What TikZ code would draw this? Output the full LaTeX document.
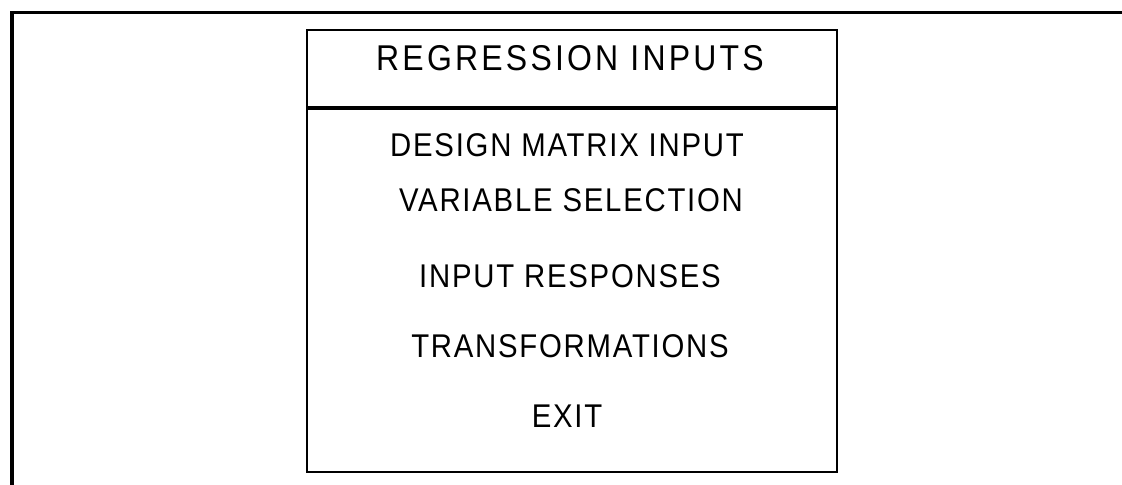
\documentclass[tikz,border=0pt]{standalone}
\usepackage{xcolor}
\usepackage{fontspec}
\setmainfont{Liberation Sans}
\usepackage{tikz}

\newcommand{\tallword}[1]{\scalebox{1}[1.12]{#1}}

\tikzset{
  titletext/.style={inner sep=0.75pt, font=\fontsize{24}{28}\selectfont\addfontfeatures{LetterSpace=10}},
  menutext/.style={inner sep=0.75pt, font=\fontsize{22}{26}\selectfont\addfontfeatures{LetterSpace=6}}
}

\begin{document}
\begin{tikzpicture}[x=0.75pt,y=0.75pt,yscale=-1,xscale=1]
	\useasboundingbox (0,0) rectangle (1122,485);
	
	%Straight Lines [id:frame] 
	\draw [line width=2.25]  (10,13) -- (1122,13) ;
	\draw [line width=2.5]  (12,12) -- (12,485) ;
	%Shape: Rectangle [id:menubox] 
	\draw [line width=1.5]  (307,30) -- (837,30) -- (837,472) -- (307,472) -- cycle ;
	%Straight Lines [id:separator] 
	\draw [line width=3]  (307,108) -- (837,108) ;
	
	% Text Node
	\node [titletext] (title) at (570,58) {\tallword{REGRESSION INPUTS}};
	% Text Node
	\node [menutext] (design) at (567,145) {\tallword{DESIGN MATRIX INPUT}};
	% Text Node
	\node [menutext] (varsel) at (571,200) {\tallword{VARIABLE SELECTION}};
	% Text Node
	\node [menutext] (responses) at (570,276) {\tallword{INPUT RESPONSES}};
	% Text Node
	\node [menutext] (transform) at (570,346) {\tallword{TRANSFORMATIONS}};
	% Text Node
	\node [menutext] (exit) at (567,416) {\tallword{EXIT}};
\end{tikzpicture}
\end{document}
